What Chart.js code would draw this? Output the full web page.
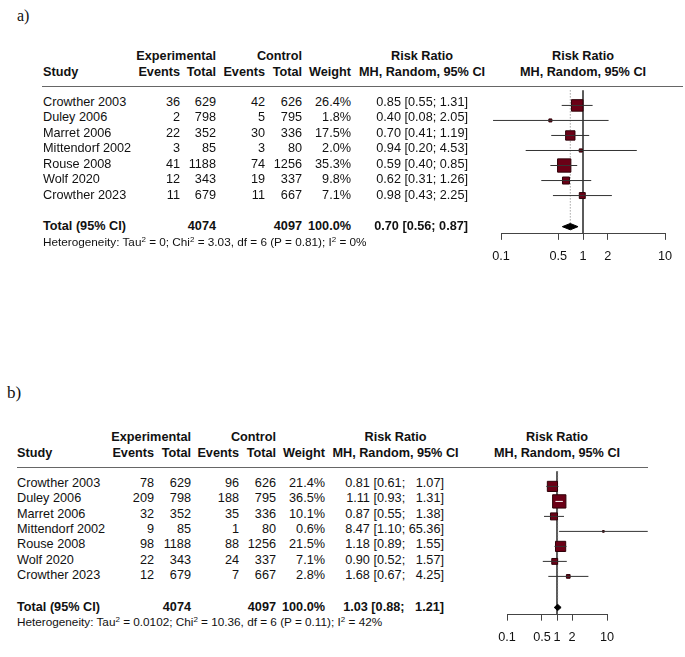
<!DOCTYPE html>
<html>
<head>
<meta charset="utf-8">
<script src="https://cdn.jsdelivr.net/npm/chart.js"></script>
<style>
  body { margin: 0; background: #fff; width: 685px; height: 657px; position: relative; overflow: hidden;
         font-family: 'Liberation Sans', Arial, sans-serif; color: #111; }
  .t { position: absolute; white-space: pre; line-height: 1; }
  .t sup { font-size: 0.68em; position: relative; top: -0.45em; vertical-align: baseline; line-height: 0; }
  .tag { position: absolute; font-family: 'Liberation Serif', 'Times New Roman', serif; line-height: 1; transform: translateY(-50%); }
  .hline { position: absolute; height: 0; border-top: 1.5px solid #666; }
  canvas { position: absolute; }
</style>
</head>
<body>
<canvas id="plotA" width="225" height="190"></canvas>
<canvas id="plotB" width="225" height="190"></canvas>
<script>
// studies shared by both analyses
const studies = ['Crowther 2003', 'Duley 2006', 'Marret 2006', 'Mittendorf 2002', 'Rouse 2008', 'Wolf 2020', 'Crowther 2023'];
const expTotal = [629, 798, 352, 85, 1188, 343, 679];
const ctrlTotal = [626, 795, 336, 80, 1256, 337, 667];

// a)
const expEventsA = [36, 2, 22, 3, 41, 12, 11];
const ctrlEventsA = [42, 5, 30, 3, 74, 19, 11];
const weightA = [26.4, 1.8, 17.5, 2.0, 35.3, 9.8, 7.1];
const rrA = [0.85, 0.40, 0.70, 0.94, 0.59, 0.62, 0.98];
const lowerA = [0.55, 0.08, 0.41, 0.20, 0.40, 0.31, 0.43];
const upperA = [1.31, 2.05, 1.19, 4.53, 0.85, 1.26, 2.25];
const pooledA = [0.70, 0.56, 0.87];
const hetA = ['0', '3.03', '6', '0.81', '0'];

// b)
const expEventsB = [78, 209, 32, 9, 98, 22, 12];
const ctrlEventsB = [96, 188, 35, 1, 88, 24, 7];
const weightB = [21.4, 36.5, 10.1, 0.6, 21.5, 7.1, 2.8];
const rrB = [0.81, 1.11, 0.87, 8.47, 1.18, 0.90, 1.68];
const lowerB = [0.61, 0.93, 0.55, 1.10, 0.89, 0.52, 0.67];
const upperB = [1.07, 1.31, 1.38, 65.36, 1.55, 1.57, 4.25];
const pooledB = [1.03, 0.88, 1.21];
const hetB = ['0.0102', '10.36', '6', '0.11', '42'];

const tickValues = [0.1, 0.5, 1, 2, 10];
const tickLabels = ['0.1', '0.5', '1', '2', '10'];

const FONT = "'Liberation Sans', Arial, sans-serif";
const ROW = 15.43;      // row height in px
const Y_TOTAL = 9.07;   // total row, in row units
const Y_AXIS = 9.55;    // axis line, in row units
const BOX_MAX = 13.3;   // side of the biggest square

Chart.defaults.font.family = FONT;

function txt(x, y, html, align, size, bold) {
  const d = document.createElement('div');
  d.className = 't';
  d.innerHTML = html;
  d.style.left = x + 'px';
  d.style.top = y + 'px';
  d.style.fontSize = (size || 12.7) + 'px';
  if (bold) d.style.fontWeight = 'bold';
  const tx = align === 'r' ? '-100%' : align === 'c' ? '-50%' : '0';
  d.style.transform = 'translate(' + tx + ',-50%)';
  document.body.appendChild(d);
}

const fmt = v => v.toFixed(2);
function ciText(est, lo, hi, width) {
  const h = fmt(hi);
  return fmt(est) + ' [' + fmt(lo) + '; ' + '  '.repeat(width - h.length) + h + ']';
}

function drawTable(P) {
  const tag = document.createElement('div');
  tag.className = 'tag';
  tag.textContent = P.tag;
  tag.style.left = P.tagX + 'px';
  tag.style.top = P.tagY + 'px';
  tag.style.fontSize = P.tagSize + 'px';
  document.body.appendChild(tag);

  const h1 = P.top - 30.5, h2 = P.top - 14.6;
  txt(P.cols[1], h1, 'Experimental', 'r', 12.7, true);
  txt(P.cols[3], h1, 'Control', 'r', 12.7, true);
  txt(P.rrHead, h1, 'Risk Ratio', 'c', 12.7, true);
  txt(P.plotHead, h1, 'Risk Ratio', 'c', 12.7, true);
  txt(P.study, h2, 'Study', 'l', 12.7, true);
  ['Events', 'Total', 'Events', 'Total', 'Weight'].forEach((h, k) => txt(P.cols[k], h2, h, 'r', 12.7, true));
  txt(P.rrHead, h2, 'MH, Random, 95% CI', 'c', 12.7, true);
  txt(P.plotHead, h2, 'MH, Random, 95% CI', 'c', 12.7, true);

  const line = document.createElement('div');
  line.className = 'hline';
  line.style.left = P.lineL + 'px';
  line.style.width = (P.lineR - P.lineL) + 'px';
  line.style.top = (P.top - 0.75) + 'px';
  document.body.appendChild(line);

  const w = Math.max(...P.upper.map(v => fmt(v).length), fmt(P.pooled[2]).length);
  studies.forEach((s, i) => {
    const y = P.top + ROW * (i + 1);
    txt(P.study, y, s, 'l');
    const vals = [P.expEvents[i], expTotal[i], P.ctrlEvents[i], ctrlTotal[i], P.weight[i].toFixed(1) + '%'];
    vals.forEach((v, k) => txt(P.cols[k], y, String(v), 'r'));
    txt(P.rrCol, y, ciText(P.rr[i], P.lower[i], P.upper[i], w), 'r');
  });

  const yt = P.top + ROW * Y_TOTAL;
  txt(P.study, yt, 'Total (95% CI)', 'l', 12.7, true);
  txt(P.cols[1], yt, String(expTotal.reduce((a, b) => a + b, 0)), 'r', 12.7, true);
  txt(P.cols[3], yt, String(ctrlTotal.reduce((a, b) => a + b, 0)), 'r', 12.7, true);
  txt(P.cols[4], yt, '100.0%', 'r', 12.7, true);
  txt(P.rrCol, yt, ciText(P.pooled[0], P.pooled[1], P.pooled[2], w), 'r', 12.7, true);
  const h = P.het;
  txt(P.study, yt + P.hetGap,
    'Heterogeneity: Tau<sup>2</sup> = ' + h[0] + '; Chi<sup>2</sup> = ' + h[1] + ', df = ' + h[2] +
    ' (P = ' + h[3] + '); I<sup>2</sup> = ' + h[4] + '%', 'l', 11.75);
}

function drawForest(P) {
  const cv = document.getElementById(P.canvas);
  cv.style.left = P.cLeft + 'px';
  cv.style.top = P.cTop + 'px';

  const maxW = Math.max(...P.weight);
  const side = P.weight.map(v => BOX_MAX * Math.sqrt(v / maxW));
  const datasets = [];

  datasets.push({ data: [{ x: 1, y: 0 }, { x: 1, y: Y_AXIS }], showLine: true,
    borderColor: '#444', borderWidth: 1, pointRadius: 0, clip: false, order: 6 });
  datasets.push({ data: [{ x: P.pooled[0], y: 0 }, { x: P.pooled[0], y: Y_TOTAL }], showLine: true,
    borderColor: '#777', borderWidth: 1, borderDash: [1, 2], pointRadius: 0, clip: false, order: 5 });

  datasets.push({ data: P.rr.map((v, i) => ({ x: v, y: i + 1 })), pointStyle: 'rect',
    pointRadius: side.map(s => s / Math.SQRT2), pointBackgroundColor: '#6b0016',
    pointBorderColor: '#2e0008', pointBorderWidth: 1, clip: false, order: 4 });

  P.rr.forEach((v, i) => {
    datasets.push({ data: [{ x: P.lower[i], y: i + 1 }, { x: P.upper[i], y: i + 1 }], showLine: true,
      borderWidth: 1, pointRadius: 0, clip: false, order: 3,
      borderColor: ctx => {
        const sc = ctx.chart.scales.x;
        if (!sc) return '#333';
        const c = sc.getPixelForValue(v), a = sc.getPixelForValue(P.lower[i]), b = sc.getPixelForValue(P.upper[i]);
        return (a >= c - side[i] / 2 && b <= c + side[i] / 2) ? '#fff' : '#333';
      } });
  });

  const [est, lo, hi] = P.pooled;
  datasets.push({ data: [{ x: lo, y: Y_TOTAL }, { x: est, y: Y_TOTAL - 0.21 }, { x: hi, y: Y_TOTAL },
      { x: est, y: Y_TOTAL + 0.21 }, { x: lo, y: Y_TOTAL }],
    showLine: true, fill: 'shape', backgroundColor: '#000', borderColor: '#000', borderWidth: 1,
    pointRadius: 0, clip: false, order: 1 });

  new Chart(cv, {
    type: 'scatter',
    data: { datasets: datasets },
    options: {
      responsive: false,
      animation: false,
      events: [],
      layout: { padding: { left: P.padL, right: P.padR, top: P.padT, bottom: P.padB } },
      plugins: { legend: { display: false }, tooltip: { enabled: false } },
      scales: {
        x: {
          type: 'logarithmic', min: 0.1, max: 10, position: 'bottom',
          afterBuildTicks: s => { s.ticks = tickValues.map(v => ({ value: v })); },
          afterFit: s => { s.height = 31; },
          grid: { drawOnChartArea: false, drawTicks: true, tickLength: 6, color: '#444' },
          border: { display: true, color: '#444', width: 1 },
          ticks: { callback: (v, i) => tickLabels[i], autoSkip: false, maxRotation: 0, padding: 9,
                   color: '#111', font: { size: 12.7 } }
        },
        y: { type: 'linear', display: false, reverse: true, min: 0, max: Y_AXIS }
      }
    }
  });
}

const panelA = {
  tag: 'a)', tagX: 17, tagY: 16, tagSize: 16,
  top: 86.5, study: 43, cols: [180, 216, 265, 302, 351], rrCol: 468, rrHead: 422, plotHead: 583,
  lineL: 42, lineR: 683, hetGap: 15.5,
  expEvents: expEventsA, ctrlEvents: ctrlEventsA, weight: weightA,
  rr: rrA, lower: lowerA, upper: upperA, pooled: pooledA, het: hetA,
  canvas: 'plotA', cLeft: 460, cTop: 80, padL: 41, padR: 20, padT: 6.5, padB: 190 - 6.5 - ROW * Y_AXIS - 31
};
const panelB = {
  tag: 'b)', tagX: 7, tagY: 392, tagSize: 17,
  top: 467.3, study: 17, cols: [154, 191, 239, 276, 325], rrCol: 444, rrHead: 395.5, plotHead: 557,
  lineL: 17, lineR: 648, hetGap: 14.5,
  expEvents: expEventsB, ctrlEvents: ctrlEventsB, weight: weightB,
  rr: rrB, lower: lowerB, upper: upperB, pooled: pooledB, het: hetB,
  canvas: 'plotB', cLeft: 460, cTop: 461, padL: 47, padR: 78, padT: 6.3, padB: 190 - 6.3 - ROW * Y_AXIS - 31
};

[panelA, panelB].forEach(P => { drawTable(P); drawForest(P); });
</script>
</body>
</html>
